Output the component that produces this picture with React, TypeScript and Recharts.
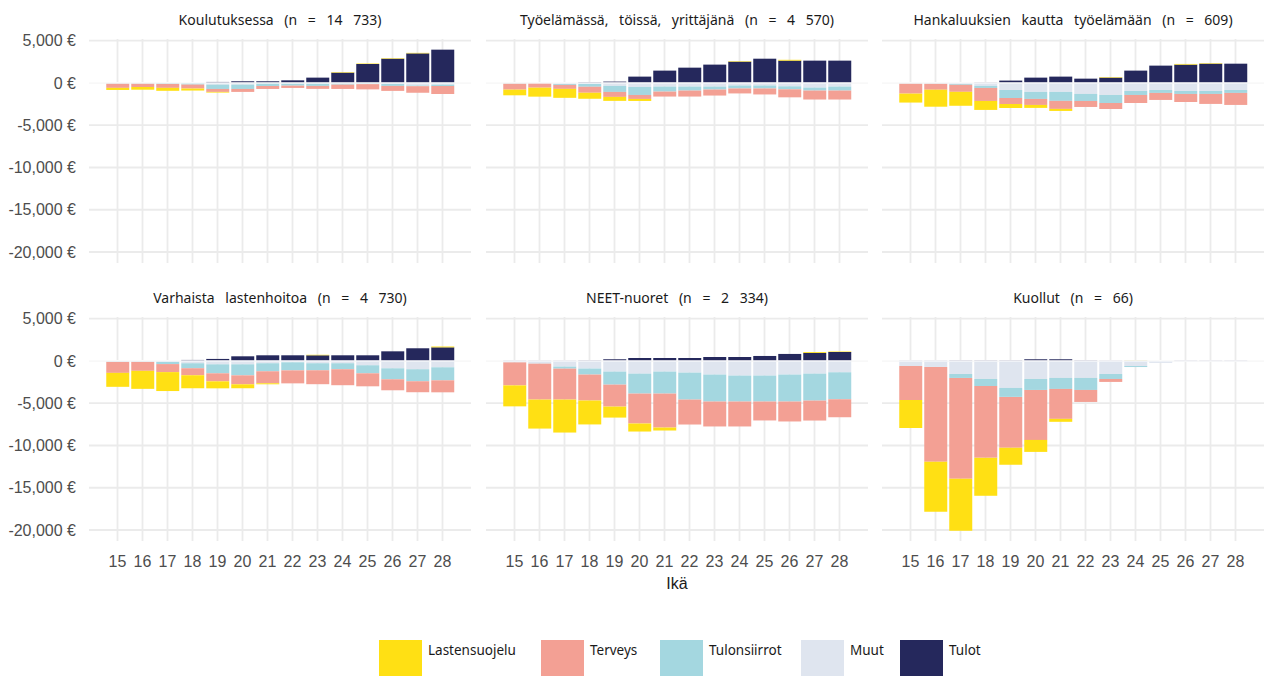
import { BarChart, Bar, XAxis, YAxis, CartesianGrid, ReferenceLine } from "recharts";

const ages = [15, 16, 17, 18, 19, 20, 21, 22, 23, 24, 25, 26, 27, 28];

const panelTitles = [
  "Koulutuksessa (n = 14 733)",
  "Työelämässä, töissä, yrittäjänä (n = 4 570)",
  "Hankaluuksien kautta työelämään (n = 609)",
  "Varhaista lastenhoitoa (n = 4 730)",
  "NEET-nuoret (n = 2 334)",
  "Kuollut (n = 66)",
];

// one row per panel, one value per age (euros)
const tulot = [
  [0, 0, 0, 0, 120, 200, 200, 310, 630, 1220, 2240, 2870, 3500, 3940],
  [0, 0, 0, 80, 160, 750, 1460, 1810, 2170, 2520, 2870, 2640, 2640, 2640],
  [0, 0, 0, 40, 280, 630, 750, 510, 630, 1460, 2050, 2170, 2280, 2280],
  [0, 0, 0, 120, 240, 550, 670, 670, 670, 670, 670, 1140, 1500, 1610],
  [30, 30, 30, 60, 200, 350, 350, 350, 470, 470, 590, 830, 950, 1060],
  [30, 30, 60, 60, 60, 200, 200, 60, 30, 30, 0, 30, 30, 30],
];

const muut = [
  [-40, -40, -30, -40, -200, -200, -60, -80, -80, -80, -80, -100, -300, -200],
  [-40, -30, -110, -100, -350, -470, -430, -430, -430, -300, -300, -400, -550, -430],
  [-50, -60, -100, -350, -830, -1060, -1060, -1300, -1420, -950, -830, -950, -950, -830],
  [-80, -80, -100, -270, -400, -400, -270, -160, -270, -270, -510, -870, -980, -750],
  [-150, -300, -670, -900, -1260, -1500, -1260, -1380, -1610, -1730, -1730, -1610, -1500, -1340],
  [-600, -710, -1540, -2130, -3190, -2130, -2010, -2010, -1540, -600, -230, -40, -40, -40],
];

const tulonsiirrot = [
  [-40, -40, -80, -150, -510, -510, -300, -240, -270, -120, -60, -250, -80, -160],
  [-40, -20, -120, -350, -710, -950, -590, -470, -350, -350, -350, -350, -350, -470],
  [-30, -30, -120, -240, -950, -830, -1060, -830, -950, -470, -350, -350, -350, -350],
  [-30, -30, -270, -590, -1060, -1300, -950, -950, -830, -710, -950, -1300, -1420, -1540],
  [-20, -20, -240, -710, -1540, -2360, -2600, -3190, -3190, -3070, -3070, -3190, -3190, -3190],
  [0, 0, -470, -830, -1060, -1300, -1300, -1420, -590, -120, 0, 0, 0, 0],
];

const terveys = [
  [-500, -400, -470, -470, -350, -350, -350, -270, -350, -510, -620, -590, -780, -950],
  [-710, -510, -470, -710, -590, -470, -590, -710, -710, -590, -710, -950, -1060, -1060],
  [-1180, -710, -830, -1540, -710, -710, -950, -710, -710, -950, -830, -950, -1180, -1420],
  [-1300, -1060, -950, -830, -950, -1060, -1420, -1540, -1650, -1890, -1540, -1300, -1300, -1420],
  [-2720, -4250, -3660, -3070, -2600, -3540, -4020, -2950, -2950, -2950, -2240, -2360, -2360, -2130],
  [-4020, -11220, -11930, -8500, -6020, -5910, -3540, -1420, -350, 0, 0, 0, 0, 0],
];

const lastensuojelu = [
  [-250, -320, -350, -240, -80, 0, 0, 0, 0, 60, 60, 60, 60, 0],
  [-670, -1060, -1060, -710, -470, -240, 0, 0, 0, 60, 0, 100, 0, 0],
  [-1060, -2010, -1650, -1060, -470, -350, -240, 0, 60, 0, 0, 80, 60, 0],
  [-1650, -2130, -2240, -1540, -830, -470, -120, 0, 60, 0, 0, 0, 0, 100],
  [-2480, -3430, -3900, -2830, -1300, -950, -350, 0, 0, 0, 0, 0, 100, 60],
  [-3310, -5910, -6140, -4490, -2010, -1420, -350, 0, 0, 30, 0, 0, 0, 0],
];

const yTicks = [5000, 0, -5000, -10000, -15000, -20000];

const legendItems = [
  { name: "Lastensuojelu", color: "#FFE014", x: 379 },
  { name: "Terveys", color: "#F3A094", x: 541 },
  { name: "Tulonsiirrot", color: "#A4D7E0", x: 660 },
  { name: "Muut", color: "#DFE5EF", x: 801 },
  { name: "Tulot", color: "#25285C", x: 900 },
];

// stacking order: first one sits next to zero
const stackOrder = [
  { key: "Tulot", color: "#25285C" },
  { key: "Muut", color: "#DFE5EF" },
  { key: "Tulonsiirrot", color: "#A4D7E0" },
  { key: "Terveys", color: "#F3A094" },
  { key: "Lastensuojelu", color: "#FFE014" },
];

const PANEL_LEFT = [89, 486, 882];
const PANEL_TOP = [39, 317];
const PANEL_W = 382;
const PANEL_H = 224;
const Y_AXIS_W = 89;
const X_AXIS_H = 32;
const TOP_PAD = 14;

const axisFont = "'Liberation Sans', Arial, sans-serif";
const titleFont = "'Noto Sans', sans-serif";

const Panel = ({ index }: { index: number }) => {
  const row = Math.floor(index / 3);
  const col = index % 3;
  const showY = col === 0;
  const showX = row === 1;

  const data = ages.map((age, i) => ({
    age,
    Tulot: tulot[index][i],
    Muut: muut[index][i],
    Tulonsiirrot: tulonsiirrot[index][i],
    Terveys: terveys[index][i],
    Lastensuojelu: lastensuojelu[index][i],
  }));

  const left = showY ? PANEL_LEFT[col] - Y_AXIS_W : PANEL_LEFT[col];
  const width = PANEL_W + (showY ? Y_AXIS_W : 0);
  const height = PANEL_H + TOP_PAD + (showX ? X_AXIS_H : 0);

  return (
    <div style={{ position: "absolute", left, top: PANEL_TOP[row] - TOP_PAD }}>
      <BarChart
        width={width}
        height={height}
        data={data}
        stackOffset="sign"
        barCategoryGap="5%"
        margin={{ top: TOP_PAD, right: 0, bottom: 0, left: 0 }}
      >
        <CartesianGrid stroke="#ebebeb" strokeWidth={1.8} syncWithTicks />
        <XAxis
          dataKey="age"
          type="category"
          interval={0}
          padding={{ left: 16, right: 16 }}
          hide={!showX}
          height={X_AXIS_H}
          axisLine={false}
          tickLine={false}
          tickSize={0}
          tickMargin={15}
          tick={{ fontSize: 16, fill: "#4d4d4d", fontFamily: axisFont }}
        />
        <YAxis
          type="number"
          domain={[-21300, 5200]}
          allowDataOverflow
          ticks={yTicks}
          interval={0}
          hide={!showY}
          width={Y_AXIS_W}
          axisLine={false}
          tickLine={false}
          tickSize={0}
          tickMargin={13}
          tickFormatter={(v: number) => v.toLocaleString("en-US") + " €"}
          tick={{ fontSize: 16, fill: "#4d4d4d", fontFamily: axisFont }}
        />
        {stackOrder.map((s) => (
          <Bar
            key={s.key}
            dataKey={s.key}
            stackId="a"
            fill={s.color}
            isAnimationActive={false}
          />
        ))}
        <ReferenceLine y={0} stroke="#ffffff" strokeWidth={1.2} />
      </BarChart>
      <div
        style={{
          position: "absolute",
          left: showY ? Y_AXIS_W : 0,
          width: PANEL_W,
          top: TOP_PAD - 29,
          textAlign: "center",
          fontFamily: titleFont,
          fontSize: 14,
          wordSpacing: 7,
          color: "#1a1a1a",
          whiteSpace: "nowrap",
        }}
      >
        {panelTitles[index]}
      </div>
    </div>
  );
};

export default function App() {
  return (
    <div
      style={{
        position: "absolute",
        left: 0,
        top: 0,
        width: 1266,
        height: 676,
        background: "#ffffff",
        overflow: "hidden",
      }}
    >
      {panelTitles.map((_, i) => (
        <Panel key={i} index={i} />
      ))}
      <div
        style={{
          position: "absolute",
          left: PANEL_LEFT[1],
          width: PANEL_W,
          top: 575,
          textAlign: "center",
          fontFamily: axisFont,
          fontSize: 16,
          color: "#1a1a1a",
        }}
      >
        Ikä
      </div>
      {legendItems.map((it) => (
        <div
          key={it.name}
          style={{
            position: "absolute",
            left: it.x,
            top: 640,
            display: "flex",
            alignItems: "flex-start",
            fontFamily: titleFont,
            fontSize: 13.5,
            color: "#1a1a1a",
            whiteSpace: "nowrap",
          }}
        >
          <div style={{ width: 43, height: 43, background: it.color }} />
          <span style={{ marginLeft: 6, marginTop: 1 }}>{it.name}</span>
        </div>
      ))}
    </div>
  );
}
